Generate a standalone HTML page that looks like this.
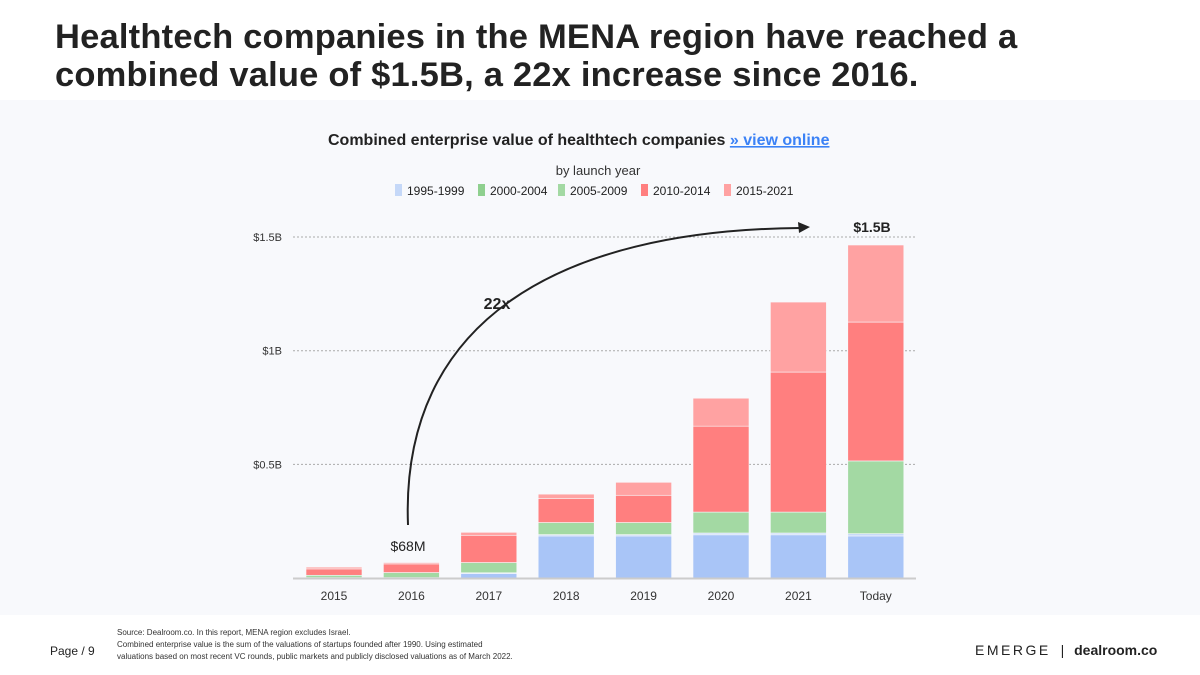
<!DOCTYPE html>
<html><head><meta charset="utf-8"><style>
body{margin:0;width:1200px;height:675px;background:#fff;font-family:"Liberation Sans",sans-serif;overflow:hidden;position:relative}
.t{position:absolute;white-space:nowrap}
</style></head><body>
<div class="t" style="left:55px;top:18px;font-size:34.5px;font-weight:bold;color:#222;line-height:38px;letter-spacing:0.2px">Healthtech companies in the MENA region have reached a<br>combined value of $1.5B, a 22x increase since 2016.</div>
<div style="position:absolute;left:0;top:100px;width:1200px;height:515px;background:#f8f9fc"></div>
<svg id="c" style="position:absolute;left:0;top:0" width="1200" height="675" font-family="Liberation Sans, sans-serif"></svg>
<div class="t" style="left:50px;top:644px;font-size:12px;color:#222">Page / 9</div>
<div class="t" style="left:117px;top:627px;font-size:8px;color:#333;line-height:12px">Source: Dealroom.co. In this report, MENA region excludes Israel.<br>Combined enterprise value is the sum of the valuations of startups founded after 1990. Using estimated<br>valuations based on most recent VC rounds, public markets and publicly disclosed valuations as of March 2022.</div>
<div class="t" style="left:975px;top:642px;font-size:14px;color:#222"><span style="letter-spacing:2.5px">EMERGE</span> <span style="margin:0 6px">|</span> <b>dealroom.co</b></div>
<script>
const categories=["2015","2016","2017","2018","2019","2020","2021","Today"];
const s1995=[0,0,0.02,0.185,0.185,0.19,0.19,0.185];
const s2000=[0.002,0.002,0.003,0.006,0.006,0.008,0.008,0.01];
const s2005=[0.01,0.022,0.045,0.053,0.053,0.092,0.092,0.32];
const s2010=[0.028,0.038,0.12,0.105,0.12,0.378,0.616,0.611];
const s2015=[0.008,0.006,0.013,0.02,0.057,0.123,0.308,0.339];
const seriesNames=["1995-1999","2000-2004","2005-2009","2010-2014","2015-2021"];
const colors=["#a9c5f7","#c9dbf8","#a3d9a3","#ff7f7f","#ffa2a2"];
const yTicks=[0.5,1,1.5];
const yTickLabels=["$0.5B","$1B","$1.5B"];
const NS="http://www.w3.org/2000/svg",svg=document.getElementById("c");
function el(t,a,txt,p){const e=document.createElementNS(NS,t);for(const k in a)e.setAttribute(k,a[k]);if(txt!=null)e.textContent=txt;(p||svg).appendChild(e);return e;}
const y=v=>578-v*227.3, x=i=>334+i*77.4, bw=56;
let e;
const tt=el("text",{x:328,y:145,"font-size":16,"font-weight":"bold",fill:"#222"});

e=el("tspan",{},"Combined enterprise value of healthtech companies ",tt);
e=el("tspan",{fill:"#3b82f6","text-decoration":"underline"},"» view online",tt);

e=el("text",{x:598,y:175,"text-anchor":"middle","font-size":13,fill:"#333"},"by launch year");

const lx=[395,478,558,641,724];
const lcol=["#c5d8f8","#8fd08f","#a3d9a3","#ff7f7f","#ffa2a2"];
seriesNames.forEach((n,i)=>{
 e=el("rect",{x:lx[i],y:184,width:7,height:12,fill:lcol[i]});
 
 e=el("text",{x:lx[i]+12,y:195,"font-size":12,fill:"#222"},n);
 
});
yTicks.forEach((t,i)=>{
 e=el("line",{x1:293,x2:916,y1:y(t),y2:y(t),stroke:"#aaa","stroke-dasharray":"2,2"});
 
 e=el("text",{x:282,y:y(t)+4,"text-anchor":"end","font-size":11,fill:"#333"},yTickLabels[i]);
 
});
const series=[s1995,s2000,s2005,s2010,s2015];
categories.forEach((c,i)=>{
 let acc=0;
 series.forEach((s,j)=>{
  const v=s[i];if(v<=0)return;
  e=el("rect",{x:x(i)-bw/2,y:y(acc+v),width:bw,height:v*227.3,fill:colors[j],stroke:"#f8f9fc","stroke-width":0.6});
  
  acc+=v;
 });
 e=el("text",{x:x(i),y:600,"text-anchor":"middle","font-size":12,fill:"#333"},c);
 
});
e=el("line",{x1:293,x2:916,y1:578.5,y2:578.5,stroke:"#ccc","stroke-width":2});

e=el("text",{x:408,y:551,"text-anchor":"middle","font-size":14,fill:"#222"},"$68M");

e=el("text",{x:872,y:232,"text-anchor":"middle","font-size":14,"font-weight":"bold",fill:"#222"},"$1.5B");

e=el("path",{d:"M408,525 C400,320 560,230 800,228",fill:"none",stroke:"#222","stroke-width":2});

e=el("path",{d:"M810,227 L798,222 L799,233 Z",fill:"#222"});

e=el("text",{x:497,y:309,"text-anchor":"middle","font-size":16,"font-weight":"bold",fill:"#222"},"22x");

</script>
</body></html>
